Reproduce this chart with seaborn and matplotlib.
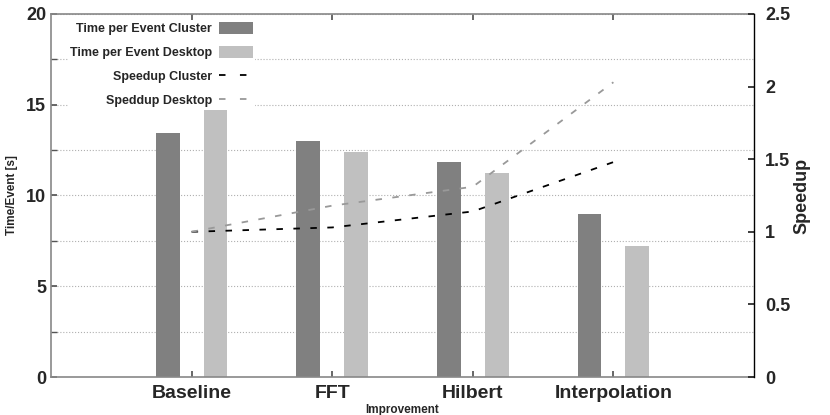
import numpy as np
import pandas as pd
import matplotlib
matplotlib.use("Agg")
import matplotlib.pyplot as plt
from matplotlib.patches import Patch
from matplotlib.lines import Line2D
from matplotlib.ticker import MultipleLocator, FormatStrFormatter
import seaborn as sns

categories = ["Baseline", "FFT", "Hilbert", "Interpolation"]
time_cluster = [13.45, 13.0, 11.85, 9.0]
time_desktop = [14.7, 12.4, 11.25, 7.2]
speedup_cluster = [1.0, 1.03, 1.14, 1.48]
speedup_desktop = [1.0, 1.18, 1.31, 2.03]
series_names = ["Time per Event Cluster", "Time per Event Desktop",
                "Speedup Cluster", "Speddup Desktop"]

sns.set_theme(style="white")
plt.rcParams["font.family"] = ["Liberation Sans", "DejaVu Sans"]
plt.rcParams["font.weight"] = "bold"

df = pd.DataFrame({
    "Improvement": categories * 2,
    "time": time_cluster + time_desktop,
    "series": [series_names[0]] * 4 + [series_names[1]] * 4,
})

fig = plt.figure(figsize=(8.3, 4.15), dpi=100)
ax = fig.add_axes([51 / 830, 1 - 377 / 415, (754 - 51) / 830, (377 - 14) / 415])

bar_colors = ["#808080", "#c0c0c0"]
sns.barplot(data=df, x="Improvement", y="time", hue="series", ax=ax,
            palette=bar_colors, width=0.68, gap=0.5, legend=False,
            saturation=1, linewidth=0, errorbar=None)

ax.set_xlim(-1, 4)
ax.set_ylim(0, 20)
ax.yaxis.set_major_locator(MultipleLocator(5))
ax.yaxis.set_minor_locator(MultipleLocator(2.5))
ax.grid(axis="y", which="both", color="#b0b0b0", linestyle=":", linewidth=0.8)
ax.set_axisbelow(True)
ax.set_xticks(range(len(categories)))
ax.set_xticklabels(categories, fontsize=14, fontweight="bold")
ax.tick_params(axis="x", direction="in", length=4, top=True, bottom=True, pad=6, color="#555555")
ax.tick_params(axis="y", which="both", direction="in", length=4, labelsize=13, color="#555555")
for lab in ax.get_yticklabels():
    lab.set_fontweight("bold")
ax.set_xlabel("Improvement", fontsize=8.5, fontweight="bold", labelpad=1)
ax.set_ylabel("Time/Event [s]", fontsize=8.5, fontweight="bold", labelpad=6)
for s in ["left", "bottom", "top"]:
    ax.spines[s].set_color("#888888")
    ax.spines[s].set_linewidth(1.2)
ax.spines["right"].set_visible(False)

ax2 = ax.twinx()
pos = np.arange(len(categories))
dash = (0, (3.6, 5.8))
sns.lineplot(x=pos, y=speedup_cluster, ax=ax2, color="black",
             linestyle=dash, linewidth=1.3)
sns.lineplot(x=pos, y=speedup_desktop, ax=ax2, color="#999999",
             linestyle=dash, linewidth=1.3)
ax2.set_ylim(0, 2.5)
ax2.set_xlim(-1, 4)
ax2.yaxis.set_major_locator(MultipleLocator(0.5))
ax2.yaxis.set_major_formatter(FormatStrFormatter("%g"))
ax2.tick_params(axis="y", direction="in", length=4, labelsize=13, pad=8)
for lab in ax2.get_yticklabels():
    lab.set_fontweight("bold")
ax2.set_ylabel("Speedup", fontsize=13, fontweight="bold", labelpad=2)
ax2.spines["right"].set_color("black")
ax2.spines["right"].set_linewidth(1.0)
for s in ["left", "bottom", "top"]:
    ax2.spines[s].set_visible(False)

handles = [
    Patch(facecolor=bar_colors[0], edgecolor="none"),
    Patch(facecolor=bar_colors[1], edgecolor="none"),
    Line2D([], [], color="black", linestyle=(0, (3.6, 8)), linewidth=1.3),
    Line2D([], [], color="#999999", linestyle=(0, (3.6, 8)), linewidth=1.3),
]
leg = ax2.legend(handles, series_names, loc="upper left", bbox_to_anchor=(0.015, 0.999),
                 markerfirst=False, frameon=True, fancybox=False,
                 prop={"size": 9, "weight": "bold"},
                 handlelength=2.7, handleheight=1.0, labelspacing=0.88,
                 borderpad=0.15, handletextpad=0.6)
leg.get_frame().set_facecolor("white")
leg.get_frame().set_edgecolor("none")
leg.get_frame().set_alpha(1)

fig.savefig("out.png", dpi=100)
